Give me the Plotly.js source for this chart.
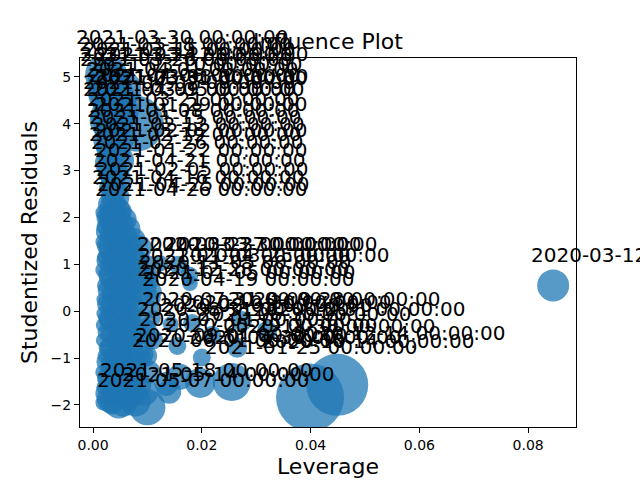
<!DOCTYPE html>
<html>
<head>
<meta charset="utf-8">
<script src="https://cdn.plot.ly/plotly-3.0.1.min.js"></script>
<style>
  body { margin: 0; background: #fff; }
  #plot { width: 640px; height: 480px; }
</style>
</head>
<body>
<div id="plot"></div>
<script>
// Observations that were not flagged (no label drawn)
const clusterLev = [
  0.0019, 0.0020, 0.0018, 0.0021, 0.0019, 0.0018, 0.0020, 0.0019, 0.0021, 0.0018, 0.0020, 0.0019, 0.0021, 0.0020,
  0.0026, 0.0027, 0.0025, 0.0028, 0.0026, 0.0027, 0.0025, 0.0026, 0.0028, 0.0025, 0.0027, 0.0026, 0.0028,
  0.0032, 0.0030, 0.0034, 0.0031, 0.0033, 0.0030, 0.0032, 0.0035, 0.0031, 0.0033, 0.0030, 0.0034, 0.0032, 0.0036,
  0.0040, 0.0041, 0.0039, 0.0042, 0.0040, 0.0038, 0.0041, 0.0040, 0.0042, 0.0039, 0.0041, 0.0040, 0.0039,
  0.0047, 0.0049, 0.0044, 0.0048, 0.0046, 0.0050, 0.0045, 0.0048, 0.0046, 0.0049, 0.0044, 0.0047, 0.0050, 0.0046,
  0.0056, 0.0055, 0.0057, 0.0054, 0.0056, 0.0058, 0.0055, 0.0057, 0.0054, 0.0056, 0.0055, 0.0057, 0.0056,
  0.0063, 0.0066, 0.0061, 0.0065, 0.0062, 0.0067, 0.0060, 0.0064, 0.0068, 0.0061, 0.0066, 0.0063,
  0.0072, 0.0071, 0.0073, 0.0070, 0.0074, 0.0072, 0.0071, 0.0073, 0.0072, 0.0070, 0.0074,
  0.0078, 0.0082, 0.0076, 0.0084, 0.0079, 0.0081, 0.0077, 0.0083, 0.0078, 0.0080, 0.0085,
  0.0095, 0.0102, 0.0098, 0.0110, 0.0096, 0.0104, 0.0092, 0.0099,
  0.0135, 0.0160, 0.0197, 0.0178, 0.0140
];
const clusterRes = [
  -1.95, -1.62, -1.30, -0.95, -0.62, -0.30, -0.05, 0.25, 0.55, 0.88, 1.15, 1.48, 1.80, 2.10,
  -1.75, -1.42, -1.08, -0.78, -0.45, -0.15, 0.15, 0.45, 0.78, 1.08, 1.40, 1.70, 2.00,
  -1.88, -1.45, -1.12, -0.80, -0.48, -0.18, 0.12, 0.40, 0.72, 1.02, 1.32, 1.65, 1.95, 2.25,
  -1.70, -1.35, -1.00, -0.68, -0.35, -0.05, 0.22, 0.52, 0.85, 1.15, 1.45, 1.75, 2.05,
  -1.98, -1.55, -1.25, -0.92, -0.60, -0.30, 0.00, 0.28, 0.60, 0.92, 1.22, 1.55, 1.85, 2.12,
  -1.95, -1.65, -1.30, -0.98, -0.65, -0.35, -0.02, 0.32, 0.65, 0.98, 1.30, 1.62, 1.95,
  -1.80, -1.40, -1.05, -0.70, -0.40, -0.10, 0.18, 0.50, 0.80, 1.10, 1.42, 1.75,
  -1.75, -1.40, -1.05, -0.70, -0.38, -0.05, 0.28, 0.60, 0.92, 1.22, 1.52,
  -1.92, -1.58, -1.20, -0.85, -0.52, -0.22, 0.08, 0.42, 0.75, 1.05, 1.35,
  -1.72, -1.30, -0.95, -0.60, -0.35, 0.05, 0.35, 0.70,
  -1.55, -1.40, -1.53, 0.60, -1.72
];
// Cook's distance relative to the largest one
const clusterCook = [
  0.055, 0.049, 0.049, 0.042, 0.049, 0.042, 0.049, 0.042, 0.049, 0.049, 0.042, 0.055, 0.055, 0.063,
  0.12, 0.10, 0.09, 0.08, 0.08, 0.08, 0.08, 0.08, 0.09, 0.09, 0.10, 0.11, 0.12,
  0.16, 0.11, 0.10, 0.09, 0.09, 0.09, 0.09, 0.09, 0.10, 0.09, 0.10, 0.11, 0.12, 0.13,
  0.14, 0.11, 0.10, 0.09, 0.09, 0.09, 0.09, 0.10, 0.10, 0.11, 0.11, 0.12, 0.14,
  0.18, 0.14, 0.12, 0.11, 0.11, 0.10, 0.10, 0.10, 0.11, 0.11, 0.12, 0.12, 0.14, 0.16,
  0.17, 0.14, 0.12, 0.11, 0.10, 0.10, 0.10, 0.10, 0.11, 0.12, 0.12, 0.13, 0.15,
  0.18, 0.14, 0.12, 0.11, 0.11, 0.10, 0.10, 0.11, 0.12, 0.12, 0.13, 0.15,
  0.16, 0.13, 0.11, 0.10, 0.10, 0.09, 0.10, 0.11, 0.11, 0.12, 0.13,
  0.20, 0.16, 0.13, 0.12, 0.11, 0.11, 0.11, 0.12, 0.13, 0.13, 0.14,
  0.16, 0.12, 0.10, 0.09, 0.08, 0.08, 0.08, 0.09,
  0.125, 0.146, 0.195, 0.055, 0.125
];

// Flagged observations (large residual or high leverage), labelled by date
const flaggedDates = [
  '2021-03-30', '2021-03-18', '2021-03-15', '2021-03-12', '2021-03-24', '2021-03-26', '2021-03-10',
  '2021-04-01', '2021-04-06', '2021-03-31', '2021-04-02', '2021-03-08', '2021-04-09', '2021-03-05',
  '2021-03-21', '2021-01-29', '2021-01-08', '2021-01-15', '2021-02-12', '2021-02-02', '2021-02-19',
  '2021-02-26', '2021-01-22', '2021-04-21', '2021-02-05', '2021-04-16', '2021-04-25', '2021-04-26',
  '2020-03-23', '2020-03-27', '2020-03-30', '2020-03-25', '2021-01-04', '2020-11-05', '2020-12-28',
  '2020-04-19', '2021-01-05',
  '2020-07-31', '2020-09-28', '2020-10-30', '2020-12-31', '2020-08-31', '2020-06-30', '2020-11-30',
  '2020-07-01', '2020-05-29', '2020-09-01', '2020-06-01', '2020-04-30', '2020-08-03',
  '2020-10-14', '2020-12-14', '2021-01-25', '2021-05-14', '2021-05-07', '2021-05-18', '2020-03-12'
];
const flaggedLev = [
  0.0024, 0.0027, 0.0034, 0.0054, 0.0025, 0.0026, 0.0043,
  0.0033, 0.0037, 0.0051, 0.0029, 0.0079, 0.0025, 0.0043,
  0.0034, 0.0047, 0.0030, 0.0035, 0.0039, 0.0046, 0.0031,
  0.0036, 0.0042, 0.0037, 0.0041, 0.0035, 0.0043, 0.0037,
  0.0102, 0.0124, 0.0156, 0.0177, 0.0104, 0.0106, 0.0102,
  0.0110, 0.0112,
  0.0110, 0.0274, 0.0182, 0.0320, 0.0102, 0.0219, 0.0265,
  0.0106, 0.0155, 0.0097, 0.0093, 0.0200, 0.0143,
  0.0399, 0.0449, 0.0255, 0.0100, 0.0035, 0.0038, 0.0846
];
const flaggedRes = [
  5.04, 4.92, 4.82, 4.74, 4.74, 4.63, 4.53,
  4.45, 4.32, 4.26, 4.17, 4.00, 4.06, 4.06,
  3.84, 3.74, 3.64, 3.49, 3.34, 3.21, 3.16,
  2.99, 2.81, 2.63, 2.44, 2.27, 2.12, 2.04,
  1.02, 1.02, 0.99, 0.76, 0.79, 0.64, 0.49,
  0.28, 0.42,
  -0.15, -0.21, -0.25, -0.42, -0.36, -0.50, -0.78,
  -0.58, -0.74, -0.92, -1.03, -0.99, -0.28,
  -1.84, -1.57, -1.51, -2.05, -1.97, -1.72, 0.55
];
const flaggedCook = [
  0.381, 0.346, 0.346, 0.312, 0.312, 0.312, 0.312,
  0.280, 0.280, 0.280, 0.280, 0.678, 0.250, 0.250,
  0.250, 0.250, 0.221, 0.221, 0.221, 0.221, 0.195,
  0.195, 0.195, 0.170, 0.170, 0.170, 0.170, 0.146,
  0.055, 0.055, 0.070, 0.070, 0.055, 0.055, 0.055,
  0.055, 0.055,
  0.055, 0.087, 0.070, 0.087, 0.055, 0.070, 0.087,
  0.055, 0.070, 0.055, 0.055, 0.070, 0.055,
  1.000, 0.831, 0.312, 0.280, 0.105, 0.087, 0.221
];

const FONT = 'DejaVu Sans, Liberation Sans, sans-serif';
const MAX_DIAMETER = 68;   // px, bubble of the largest Cook's distance
const diameter = c => MAX_DIAMETER * Math.sqrt(c);

function drawPlot() {
  try {
    const lev = clusterLev.concat(flaggedLev);
    const res = clusterRes.concat(flaggedRes);
    const cook = clusterCook.concat(flaggedCook);

    const bubbles = {
      x: lev,
      y: res,
      type: 'scatter',
      mode: 'markers',
      marker: {
        size: cook.map(diameter),
        sizemode: 'diameter',
        color: '#1f77b4',
        opacity: 0.75,
        line: { width: 0 }
      },
      hoverinfo: 'skip',
      cliponaxis: true
    };

    // labels sit up and left of each point, offset by diameter / sqrt(2)
    const labels = flaggedDates.map((d, i) => {
      const off = diameter(flaggedCook[i]) / Math.SQRT2;
      return {
        x: flaggedLev[i],
        y: flaggedRes[i],
        xref: 'x', yref: 'y',
        text: d + ' 00:00:00',
        showarrow: false,
        xanchor: 'left',
        yanchor: 'bottom',
        xshift: -off - 2,
        yshift: off - 6,
        font: { family: FONT, size: 20, color: 'black' }
      };
    });

    const axisCommon = {
      showgrid: false,
      zeroline: false,
      showline: true,
      mirror: true,
      linecolor: 'black',
      linewidth: 1,
      ticks: 'outside',
      ticklen: 5,
      tickwidth: 1,
      tickcolor: 'black',
      tickfont: { family: FONT, size: 14, color: 'black' }
    };

    const layout = {
      width: 640,
      height: 480,
      margin: { l: 80, r: 64, t: 58, b: 53, pad: 0 },
      paper_bgcolor: 'white',
      plot_bgcolor: 'white',
      showlegend: false,
      font: { family: FONT, color: 'black' },
      title: {
        text: 'Influence Plot',
        font: { family: FONT, size: 22, color: 'black' },
        x: 0.5, xref: 'paper', xanchor: 'center',
        y: 1 - 41 / 480, yref: 'container', yanchor: 'middle'
      },
      xaxis: Object.assign({}, axisCommon, {
        range: [-0.0024, 0.0888],
        tickvals: [0, 0.02, 0.04, 0.06, 0.08],
        tickformat: '.2f',
        title: { text: 'Leverage', font: { family: FONT, size: 22, color: 'black' }, standoff: 6 }
      }),
      yaxis: Object.assign({}, axisCommon, {
        range: [-2.47, 5.40],
        tickvals: [-2, -1, 0, 1, 2, 3, 4, 5],
        title: { text: 'Studentized Residuals', font: { family: FONT, size: 22, color: 'black' }, standoff: 6 }
      }),
      annotations: labels
    };

    Plotly.newPlot('plot', [bubbles], layout, { staticPlot: true });
  } catch (error) {
    console.error('Error while drawing the plot:', error);
  }
}

drawPlot();
</script>
</body>
</html>
